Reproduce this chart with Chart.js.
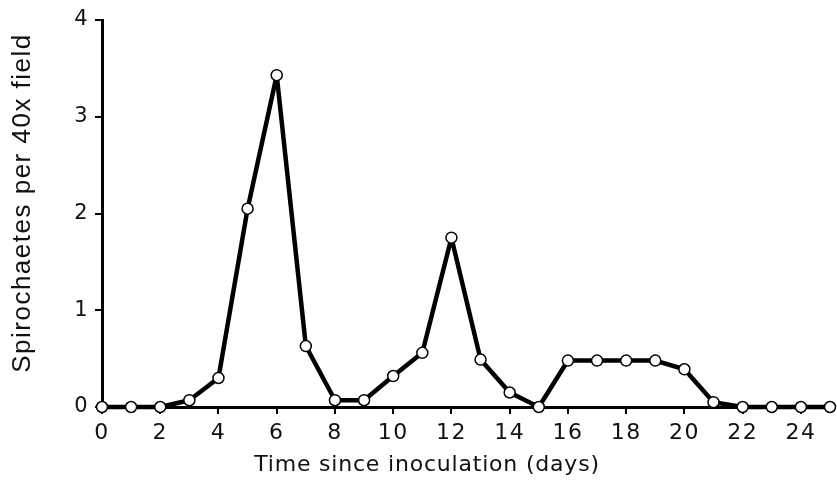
<!DOCTYPE html>
<html>
<head>
<meta charset="utf-8">
<script src="https://cdn.jsdelivr.net/npm/chart.js@4/dist/chart.umd.min.js"></script>
<style>
    html, body { margin: 0; padding: 0; background: #fff; }
    #wrap { width: 837px; height: 480px; }
</style>
</head>
<body>
<div id="wrap"><canvas id="chart"></canvas></div>
<script>
    // days after inoculation and spirochaete counts
    var days = [0, 1, 2, 3, 4, 5, 6, 7, 8, 9, 10, 11, 12, 13, 14, 15, 16, 17, 18, 19, 20, 21, 22, 23, 24, 25];
    var counts = [0, 0, 0, 0.07, 0.3, 2.05, 3.43, 0.63, 0.07, 0.07, 0.32, 0.56, 1.75, 0.49, 0.15, 0, 0.48, 0.48, 0.48, 0.48, 0.39, 0.05, 0, 0, 0, 0];
    var xTitle = 'Time since inoculation (days)';
    var yTitle = 'Spirochaetes per 40x field';

    var points = days.map(function (d, i) { return { x: d, y: counts[i] }; });

    // spaced-out lettering like the scan, and axis titles placed as in the figure
    // (the x title sits centred on the page, not on the axis)
    var titles = {
        id: 'titles',
        beforeDraw: function (chart) { chart.ctx.letterSpacing = '1.5px'; },
        afterDraw: function (chart) {
            var ctx = chart.ctx;
            ctx.save();
            ctx.fillStyle = '#111';
            ctx.textAlign = 'center';
            ctx.textBaseline = 'middle';
            ctx.letterSpacing = '0.8px';
            ctx.font = '22px "DejaVu Sans"';
            ctx.fillText(xTitle, 427, 465);
            ctx.translate(23, 203);
            ctx.rotate(-Math.PI / 2);
            ctx.letterSpacing = '1.5px';
            ctx.font = '26px "Liberation Sans"';
            ctx.fillText(yTitle, 0, 0);
            ctx.restore();
        }
    };

    new Chart(document.getElementById('chart'), {
        type: 'line',
        data: {
            datasets: [{
                data: points,
                borderColor: '#000',
                borderWidth: 4.5,
                borderJoinStyle: 'round',
                backgroundColor: '#fff',
                pointBackgroundColor: '#fff',
                pointBorderColor: '#000',
                pointBorderWidth: 1.5,
                pointRadius: 5.5,
                tension: 0,
                clip: false
            }]
        },
        plugins: [titles],
        options: {
            responsive: true,
            maintainAspectRatio: false,
            animation: false,
            layout: { padding: { top: 20, right: 0, left: 0, bottom: 0 } },
            plugins: { legend: { display: false }, tooltip: { enabled: false } },
            scales: {
                x: {
                    type: 'linear',
                    min: 0,
                    max: 25,
                    border: { color: '#000', width: 3 },
                    grid: { drawOnChartArea: false, drawTicks: true, tickLength: 7, color: '#000', lineWidth: 2 },
                    ticks: {
                        stepSize: 2, includeBounds: false, autoSkip: false, maxRotation: 0,
                        color: '#111', padding: 6,
                        font: { family: 'DejaVu Sans', size: 22 }
                    },
                    afterFit: function (s) { s.height = 73; }
                },
                y: {
                    min: 0,
                    max: 4,
                    border: { color: '#000', width: 3 },
                    grid: { drawOnChartArea: false, drawTicks: true, tickLength: 7, color: '#000', lineWidth: 2 },
                    ticks: {
                        stepSize: 1, color: '#111', padding: 6,
                        font: { family: 'DejaVu Sans', size: 21 }
                    },
                    afterFit: function (s) { s.width = 102; }
                }
            }
        }
    });
</script>
</body>
</html>
